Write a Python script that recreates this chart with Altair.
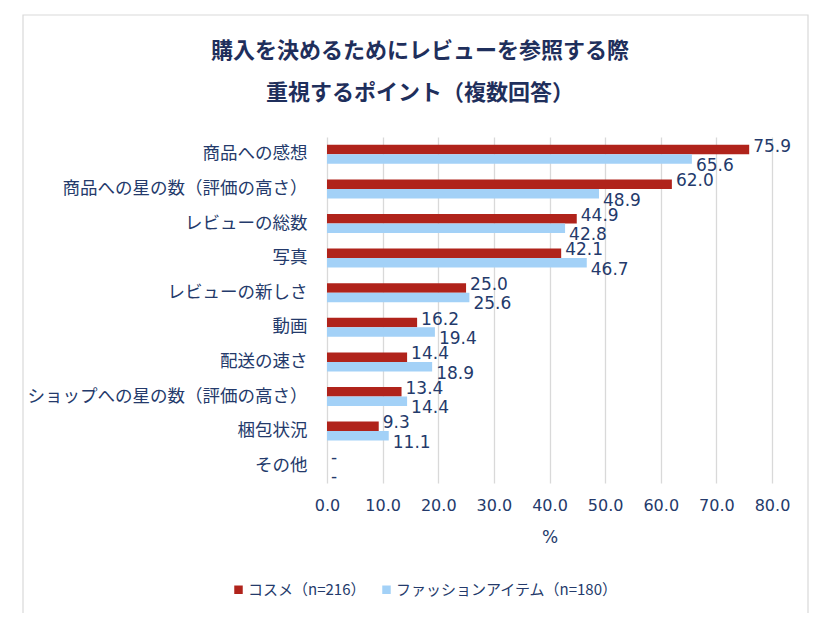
import altair as alt
import pandas as pd

categories = ["商品への感想", "商品への星の数（評価の高さ）", "レビューの総数", "写真",
              "レビューの新しさ", "動画", "配送の速さ", "ショップへの星の数（評価の高さ）",
              "梱包状況", "その他"]
series_names = ["コスメ（n=216）", "ファッションアイテム（n=180）"]
cosme = [75.9, 62.0, 44.9, 42.1, 25.0, 16.2, 14.4, 13.4, 9.3, 0.0]
fashion = [65.6, 48.9, 42.8, 46.7, 25.6, 19.4, 18.9, 14.4, 11.1, 0.0]
x_ticks = [0, 10, 20, 30, 40, 50, 60, 70, 80]

rows = []
for c, a, b in zip(categories, cosme, fashion):
    rows.append({"cat": c, "series": series_names[0], "v": a,
                 "lab": f"{a:.1f}" if a > 0 else "-"})
    rows.append({"cat": c, "series": series_names[1], "v": b,
                 "lab": f"{b:.1f}" if b > 0 else "-"})
df = pd.DataFrame(rows)

NAVY = "#243A6B"
RED = "#B0231B"
BLUE = "#A3D1F7"
FONT = "Noto Sans CJK JP"

y_enc = alt.Y("cat:N", sort=categories, title=None,
              scale=alt.Scale(paddingInner=0.45, paddingOuter=0.225),
              axis=alt.Axis(ticks=False, domain=False, labelFontSize=17.5,
                            labelColor=NAVY, labelFont=FONT, labelPadding=20,
                            labelLimit=400))
x_enc = alt.X("v:Q", title="%",
              scale=alt.Scale(domain=[0, 80], nice=False),
              axis=alt.Axis(values=x_ticks, format=".1f", ticks=False, domain=False,
                            labelFlush=False, labelOverlap=False,
                            labelFontSize=16, labelColor=NAVY, labelFont="DejaVu Sans",
                            labelPadding=14, gridColor="#D9D9D9", gridWidth=1.3,
                            titleFontSize=17, titleColor=NAVY, titleFont="DejaVu Sans",
                            titleFontWeight="normal", titlePadding=16))
yoff = alt.YOffset("series:N", sort=series_names)

bars = alt.Chart(df).mark_bar().encode(
    y=y_enc, x=x_enc, yOffset=yoff,
    color=alt.Color("series:N", sort=series_names,
                    scale=alt.Scale(domain=series_names, range=[RED, BLUE]),
                    legend=alt.Legend(title=None, orient="none", direction="horizontal",
                                      legendX=-96, legendY=445, symbolType="square",
                                      symbolSize=72, symbolStrokeWidth=0,
                                      labelFontSize=15, labelColor=NAVY, labelFont=FONT,
                                      columnPadding=13, labelOffset=2, labelLimit=400)),
)

text_red = alt.Chart(df).transform_filter(
    alt.datum.series == series_names[0]
).mark_text(align="left", baseline="middle", dx=4, dy=-3, fontSize=17,
            font="DejaVu Sans", color=NAVY).encode(
    y=alt.Y("cat:N", sort=categories), x="v:Q", yOffset=yoff, text="lab:N")

text_blue = alt.Chart(df).transform_filter(
    alt.datum.series == series_names[1]
).mark_text(align="left", baseline="middle", dx=4, dy=7, fontSize=17,
            font="DejaVu Sans", color=NAVY).encode(
    y=alt.Y("cat:N", sort=categories), x="v:Q", yOffset=yoff, text="lab:N")

frame = alt.Chart(pd.DataFrame({"k": [0]})).mark_rect(
    fill=None, stroke="#D9D9D9", strokeWidth=1.2).encode(
    x=alt.value(-304), x2=alt.value(481), y=alt.value(-122), y2=alt.value(478))

chart = alt.layer(frame, bars, text_red, text_blue).properties(
    width=445, height=346,
    autosize=alt.AutoSizeParams(type="none"),
    padding={"left": 319, "top": 129, "right": 40, "bottom": 130},
    title=alt.TitleParams(
        text=["購入を決めるためにレビューを参照する際", "重視するポイント（複数回答）"],
        anchor="start", frame="group", align="center", dx=93,
        fontSize=22, font=FONT, fontWeight="bold", color="#1F2F5C",
        lineHeight=42, offset=-91),
).configure_view(stroke=None)

chart.save("out.html", embed_options={"renderer": "svg", "actions": False})
